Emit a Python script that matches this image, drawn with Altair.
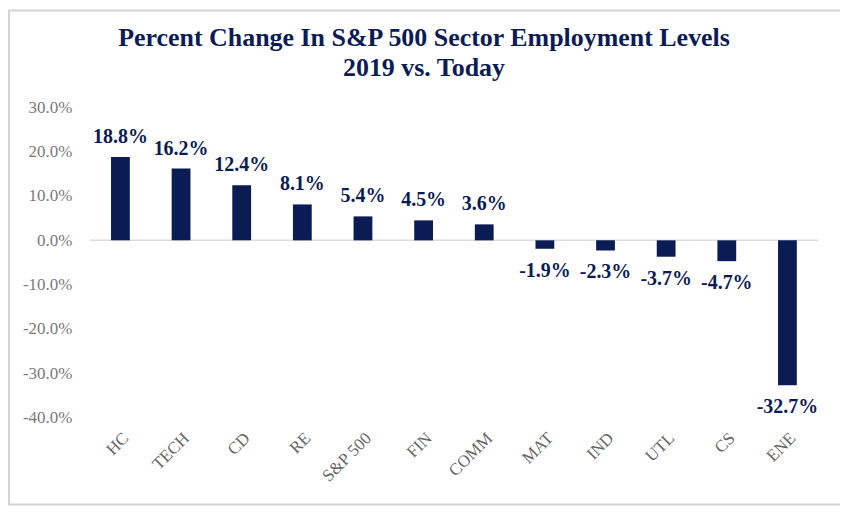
import altair as alt
import pandas as pd

sectors = ["HC", "TECH", "CD", "RE", "S&P 500", "FIN", "COMM", "MAT", "IND", "UTL", "CS", "ENE"]
changes = [18.8, 16.2, 12.4, 8.1, 5.4, 4.5, 3.6, -1.9, -2.3, -3.7, -4.7, -32.7]

df = pd.DataFrame({"sector": sectors, "change": changes})
df["label"] = [f"{v:.1f}%" for v in changes]

NAVY = "#0b1c55"
SERIF = "Liberation Serif"

x_enc = alt.X("sector:N", sort=sectors, title=None,
              scale=alt.Scale(paddingInner=0.69, paddingOuter=0.35),
              axis=alt.Axis(labelAngle=-45, labelFont=SERIF, labelFontSize=17,
                            labelColor="#666666", ticks=False, domain=False,
                            labelPadding=12))
y_enc = alt.Y("change:Q", title=None,
              scale=alt.Scale(domain=[-40, 30], nice=False),
              axis=alt.Axis(values=[-40, -30, -20, -10, 0, 10, 20, 30],
                            labelExpr="replace(format(datum.value, '.1f'), '\u2212', '-') + '%'",
                            labelFont=SERIF, labelFontSize=17, labelColor="#7a7a7a",
                            ticks=False, domain=False, grid=False, labelPadding=18))

base = alt.Chart(df)

bars = base.mark_bar(color=NAVY).encode(x=x_enc, y=y_enc)

zero = alt.Chart(pd.DataFrame({"z": [0]})).mark_rule(color="#dcdcdc", strokeWidth=1.5).encode(
    y=alt.Y("z:Q", scale=alt.Scale(domain=[-40, 30], nice=False)))

pos = base.transform_filter("datum.change >= 0").mark_text(
    font=SERIF, fontSize=20, fontWeight="bold", color=NAVY, baseline="bottom", dy=-10
).encode(x=alt.X("sector:N", sort=sectors), y="change:Q", text="label:N")

neg = base.transform_filter("datum.change < 0").mark_text(
    font=SERIF, fontSize=20, fontWeight="bold", color=NAVY, baseline="top", dy=12
).encode(x=alt.X("sector:N", sort=sectors), y="change:Q", text="label:N")

border = alt.Chart(pd.DataFrame({"a": [0]})).mark_rect(
    fill=None, stroke="#d4d4d4", strokeWidth=2
).encode(x=alt.value(-81), x2=alt.value(753), y=alt.value(-97), y2=alt.value(398))

chart = alt.layer(border, zero, bars, pos, neg).properties(
    width=730, height=311,
    autosize=alt.AutoSizeParams(type="none"),
    padding={"left": 82, "top": 99, "right": 22, "bottom": 90},
    title=alt.TitleParams(
        ["Percent Change In S&P 500 Sector Employment Levels", "2019 vs. Today"],
        font=SERIF, fontSize=26, fontWeight="bold", color=NAVY,
        anchor="middle", frame="group", offset=-72, dx=-30, lineHeight=31),
).configure_view(stroke=None)

chart.save("out.html", embed_options={"renderer": "svg", "actions": False})
